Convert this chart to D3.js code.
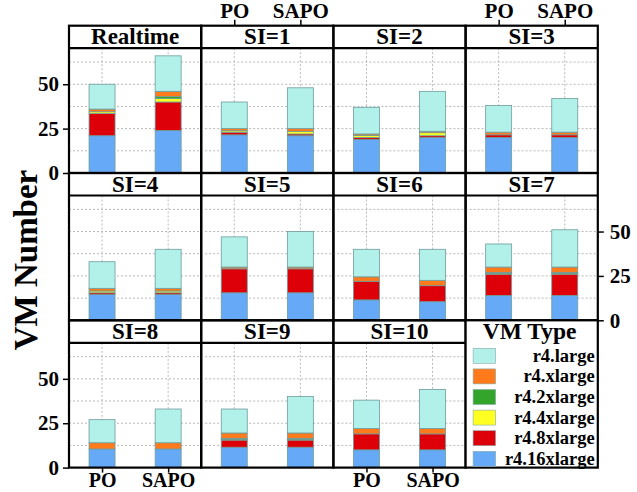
<!DOCTYPE html>
<html>
<head>
<meta charset="utf-8">
<script src="https://cdn.jsdelivr.net/npm/d3@7"></script>
<style>
  body { margin: 0; background: #fff; }
  text { font-family: "Liberation Serif", "Times New Roman", serif; font-weight: bold; }
</style>
</head>
<body>
<div id="vis"></div>
<script>
// panels, methods and VM types
const panels = ['Realtime', 'SI=1', 'SI=2', 'SI=3', 'SI=4', 'SI=5', 'SI=6', 'SI=7', 'SI=8', 'SI=9', 'SI=10'];
const methods = ['PO', 'SAPO'];
const vmTypes = ['r4.16xlarge', 'r4.8xlarge', 'r4.4xlarge', 'r4.2xlarge', 'r4.xlarge', 'r4.large'];
const yTicks = [0, 25, 50];

// values per panel: [PO, SAPO]
const r4_16xlarge = [[21, 24], [21.5, 21], [19, 20], [20, 20], [14.5, 14.5], [15.5, 15.5], [11.5, 10.5], [14, 14], [10.5, 10.5], [11.5, 11.5], [10, 10]];
const r4_8xlarge = [[12.5, 16], [1.5, 1], [1, 1], [1.5, 1.5], [1, 1], [13.5, 13.5], [10.5, 9], [12, 12], [0, 0], [4, 4], [9, 9]];
const r4_4xlarge = [[1, 2], [0.8, 1.5], [1.2, 1.7], [0, 0], [1, 1], [0, 0], [0, 0], [0.5, 0.5], [0, 0], [0.5, 0.5], [0, 0]];
const r4_2xlarge = [[0, 1], [0, 0], [0, 0], [0, 0], [0, 0], [0, 0], [0, 0], [0.5, 0.5], [0, 0], [0.5, 0.5], [0, 0]];
const r4_xlarge = [[1.5, 3], [1.2, 1.5], [0.8, 0.8], [1.5, 1.5], [1.5, 1.5], [1, 1], [2.5, 3], [3, 3], [3.5, 3.5], [3, 3], [3, 3]];
const r4_large = [[14, 20], [15, 23], [15, 22.5], [15, 19], [15, 22], [17, 20], [15.5, 17.5], [13, 21], [13, 19], [13.5, 20.5], [16, 22]];

const seriesValues = [r4_16xlarge, r4_8xlarge, r4_4xlarge, r4_2xlarge, r4_xlarge, r4_large];
const colors = ['#66aaf7', '#dd0008', '#ffff22', '#33a52a', '#ff7a1a', '#b2f0ea'];

const W = 637, H = 492;
const gridLeft = 69, gridTop = 25.7;
const colW = 132.2, rowH = 147.3, stripH = 22.5;
const plotH = rowH - stripH;

const svg = d3.select('#vis').append('svg')
  .attr('width', W).attr('height', H)
  .style('background-color', 'white');

const x = d3.scalePoint().domain(methods).range([0, colW]).padding(0.5);
const y = d3.scaleLinear().domain([0, 70.3]).range([plotH, 0]);
const barW = 26;

const color = d3.scaleOrdinal().domain(vmTypes).range(colors);
const stack = d3.stack().keys(vmTypes);

panels.forEach(function (name, p) {
  const col = p % 4, row = Math.floor(p / 4);
  const g = svg.append('g')
    .attr('transform', `translate(${gridLeft + col * colW},${gridTop + row * rowH})`);
  const plot = g.append('g').attr('transform', `translate(0,${stripH})`);

  // grid
  plot.selectAll('.hgrid').data(d3.range(12.5, 70, 12.5)).join('line')
    .attr('x1', 0).attr('x2', colW)
    .attr('y1', d => y(d)).attr('y2', d => y(d))
    .attr('stroke', '#b8b8b8').attr('stroke-dasharray', '2,2');
  plot.selectAll('.vgrid').data(methods).join('line')
    .attr('x1', d => x(d)).attr('x2', d => x(d))
    .attr('y1', 0).attr('y2', plotH)
    .attr('stroke', '#b8b8b8').attr('stroke-dasharray', '2,2');

  // stacked bars
  const rows = methods.map(function (m, i) {
    const o = { method: m };
    vmTypes.forEach((t, k) => { o[t] = seriesValues[k][p][i]; });
    return o;
  });
  const layers = stack(rows);
  plot.selectAll('.layer').data(layers).join('g')
    .attr('fill', d => color(d.key))
    .selectAll('rect').data(d => d).join('rect')
    .attr('x', d => x(d.data.method) - barW / 2)
    .attr('width', barW)
    .attr('y', d => y(d[1]))
    .attr('height', d => y(d[0]) - y(d[1]))
    .attr('stroke', '#6f9c9c').attr('stroke-width', 0.8);

  // strip
  g.append('rect').attr('x', 0).attr('y', 0).attr('width', colW).attr('height', rowH)
    .attr('fill', 'none').attr('stroke', '#000').attr('stroke-width', 2.2);
  g.append('line').attr('x1', 0).attr('x2', colW).attr('y1', stripH).attr('y2', stripH)
    .attr('stroke', '#000').attr('stroke-width', 2.2);
  g.append('text').attr('x', colW / 2).attr('y', stripH - 4)
    .attr('text-anchor', 'middle').style('font-size', '23px').text(name);

  // axes
  if (col === 0 && row !== 1) {
    plot.append('g').call(d3.axisLeft(y).tickValues(yTicks).tickSize(6).tickPadding(4)).call(styleAxis);
  }
  if (col === 3 && row === 1) {
    plot.append('g').attr('transform', `translate(${colW},0)`)
      .call(d3.axisRight(y).tickValues(yTicks).tickSize(6).tickPadding(6)).call(styleAxis);
  }
  if (row === 0 && (col === 1 || col === 3)) {
    g.append('g').call(d3.axisTop(x).tickSize(6).tickPadding(2)).call(styleAxis);
  }
  if (row === 2 && (col === 0 || col === 2)) {
    plot.append('g').attr('transform', `translate(0,${plotH})`)
      .call(d3.axisBottom(x).tickSize(5).tickPadding(0)).call(styleAxis)
      .selectAll('.tick text').style('font-size', '20px');
  }
});

function styleAxis(a) {
  a.select('.domain').remove();
  a.selectAll('.tick line').attr('stroke', '#000').attr('stroke-width', 1.5);
  a.selectAll('.tick text').attr('fill', '#000')
    .style('font-size', '21px').style('font-family', '"Liberation Serif", serif').style('font-weight', 'bold');
}

// legend panel
const lg = svg.append('g').attr('transform', `translate(${gridLeft + 3 * colW},${gridTop + 2 * rowH})`);
lg.append('rect').attr('width', colW).attr('height', rowH)
  .attr('fill', 'white').attr('stroke', '#000').attr('stroke-width', 2.2);
lg.append('text').attr('x', 64).attr('y', 19).attr('text-anchor', 'middle')
  .style('font-size', '23.5px').text('VM Type');
const legendOrder = vmTypes.slice().reverse();
const ly = d3.scalePoint().domain(legendOrder).range([35.5, 138.5]);
const item = lg.selectAll('.item').data(legendOrder).join('g')
  .attr('transform', d => `translate(0,${ly(d)})`);
item.append('rect').attr('x', 7.5).attr('y', -7.5).attr('width', 22.5).attr('height', 15)
  .attr('fill', d => color(d)).attr('stroke', '#8aa').attr('stroke-width', 0.6);
item.append('text').attr('x', colW - 3).attr('y', 6).attr('text-anchor', 'end')
  .style('font-size', '18.5px').text(d => d);

// y label
svg.append('text')
  .attr('transform', 'translate(37,260) rotate(-90)')
  .attr('text-anchor', 'middle')
  .style('font-size', '33px')
  .text('VM Number');
</script>
</body>
</html>
